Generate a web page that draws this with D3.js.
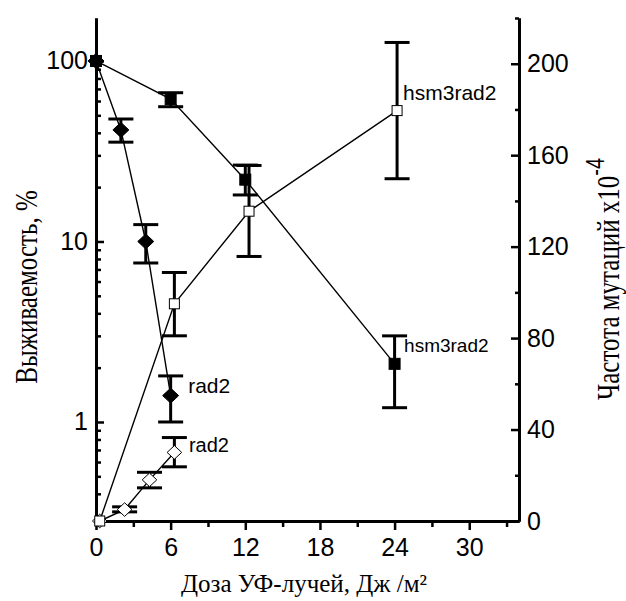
<!DOCTYPE html>
<html><head><meta charset="utf-8">
<script src="https://cdn.jsdelivr.net/npm/d3@7"></script>
<style>body{margin:0;background:#fff}svg{display:block}</style>
</head><body>
<script>
// ---- data ----
const doseTicks = [0, 6, 12, 18, 24, 30];
const doseMinor = [3, 9, 15, 21, 27, 33];
const survTicks = [1, 10, 100];
const survMinor = [0.3,0.4,0.5,0.6,0.7,0.8,0.9,2,3,4,5,6,7,8,9,20,30,40,50,60,70,80,90];
const mutTicks = [0, 40, 80, 120, 160, 200];
const mutMinor = [20, 60, 100, 140, 180, 220];

// survival (left, log axis)
const survRad2Dose = [0, 2, 4, 6];
const survRad2 = [100, 41.5, 10, 1.4];
const survRad2Lo = [null, 35.5, 7.6, 1.0];
const survRad2Hi = [null, 47.7, 12.4, 1.8];
const survHsmDose = [0, 6, 12, 24];
const survHsm = [100, 61.5, 22, 2.1];
const survHsmLo = [null, 55.8, 18.1, 1.2];
const survHsmHi = [null, 66.7, 26.5, 3.0];

// mutation frequency (right axis)
const mutRad2Dose = [0.3, 2.3, 4.3, 6.3];
const mutRad2 = [0, 5, 18, 30];
const mutRad2Lo = [null, 4, 14.5, 23.7];
const mutRad2Hi = [null, 6.2, 21.3, 36.5];
const mutHsmDose = [0.3, 6.3, 12.3, 24.2];
const mutHsm = [0, 95, 135.5, 179.5];
const mutHsmLo = [null, 81, 115.7, 149.7];
const mutHsmHi = [null, 108.7, 155.5, 209.3];

// ---- layout ----
const W = 626, H = 601;
const L = 96, R = 519, T = 18, B = 521;
const svg = d3.select("body").append("svg").attr("width", W).attr("height", H);

const x = d3.scaleLinear().domain([0, 34]).range([L, R]);
const yL = d3.scaleLog().domain([0.2828, 173]).range([B, T]);
const yR = d3.scaleLinear().domain([0, 220]).range([B, T]);

const sans = "'Liberation Sans', Arial, sans-serif";
const serif = "'Liberation Serif', 'Times New Roman', serif";

function styleAxis(g, lw) {
  g.select(".domain").attr("stroke", "#000").attr("stroke-width", 3);
  g.selectAll(".tick line").attr("stroke", "#000").attr("stroke-width", lw);
  g.selectAll(".tick text").attr("font-family", sans).attr("font-size", 25).attr("fill", "#000");
}

// bottom axis
const gx = svg.append("g").attr("transform", `translate(0,${B})`)
  .call(d3.axisBottom(x).tickValues(doseTicks).tickSize(9).tickSizeOuter(0).tickPadding(8).tickFormat(d3.format("d")));
styleAxis(gx, 2.5);
const gxm = svg.append("g").attr("transform", `translate(0,${B})`)
  .call(d3.axisBottom(x).tickValues(doseMinor).tickSize(6).tickSizeOuter(0).tickFormat(""));
styleAxis(gxm, 2.5);

// left axis
const gl = svg.append("g").attr("transform", `translate(${L},0)`)
  .call(d3.axisLeft(yL).tickValues(survTicks).tickSize(-8).tickSizeOuter(0).tickPadding(8).tickFormat(d3.format("d")));
styleAxis(gl, 2.5);
const glm = svg.append("g").attr("transform", `translate(${L},0)`)
  .call(d3.axisLeft(yL).tickValues(survMinor).tickSize(-5).tickSizeOuter(0).tickFormat(""));
styleAxis(glm, 2.5);

// right axis
const gr = svg.append("g").attr("transform", `translate(${R},0)`)
  .call(d3.axisRight(yR).tickValues(mutTicks).tickSize(-8).tickSizeOuter(0).tickPadding(8).tickFormat(d3.format("d")));
styleAxis(gr, 2.5);
const grm = svg.append("g").attr("transform", `translate(${R},0)`)
  .call(d3.axisRight(yR).tickValues(mutMinor).tickSize(-4).tickSizeOuter(0).tickFormat(""));
styleAxis(grm, 2.5);

// ---- series ----
const series = [
  {dose: survRad2Dose, v: survRad2, lo: survRad2Lo, hi: survRad2Hi, y: yL, shape: "diamond", filled: true},
  {dose: survHsmDose, v: survHsm, lo: survHsmLo, hi: survHsmHi, y: yL, shape: "square", filled: true},
  {dose: mutRad2Dose, v: mutRad2, lo: mutRad2Lo, hi: mutRad2Hi, y: yR, shape: "diamond", filled: false},
  {dose: mutHsmDose, v: mutHsm, lo: mutHsmLo, hi: mutHsmHi, y: yR, shape: "square", filled: false}
];

const line = d3.line();
series.forEach(s => {
  const pts = s.dose.map((d, i) => [x(d), s.y(s.v[i])]);
  svg.append("path").attr("d", line(pts)).attr("fill", "none").attr("stroke", "#000").attr("stroke-width", 1.4);
});

// error bars
series.forEach(s => {
  s.dose.forEach((d, i) => {
    if (s.lo[i] == null) return;
    const cx = x(d), y1 = s.y(s.hi[i]), y2 = s.y(s.lo[i]);
    const g = svg.append("g").attr("stroke", "#000");
    g.append("line").attr("x1", cx).attr("x2", cx).attr("y1", y1).attr("y2", y2).attr("stroke-width", 3);
    [y1, y2].forEach(yy => g.append("line").attr("x1", cx - 12.5).attr("x2", cx + 12.5)
      .attr("y1", yy).attr("y2", yy).attr("stroke-width", 3));
  });
});

// markers
series.forEach(s => {
  s.dose.forEach((d, i) => {
    const cx = x(d), cy = s.y(s.v[i]);
    if (s.shape === "square") {
      const sz = s.filled ? 11 : 10;
      svg.append("rect").attr("x", cx - sz / 2).attr("y", cy - sz / 2).attr("width", sz).attr("height", sz)
        .attr("fill", s.filled ? "#000" : "#fff").attr("stroke", "#000").attr("stroke-width", 1);
    } else {
      const hw = s.filled ? 8 : 7.3, hh = s.filled ? 7.5 : 6.8;
      svg.append("path").attr("d", `M${cx},${cy - hh}L${cx + hw},${cy}L${cx},${cy + hh}L${cx - hw},${cy}Z`)
        .attr("fill", s.filled ? "#000" : "#fff").attr("stroke", "#000").attr("stroke-width", 1);
    }
  });
});

// annotations
const ann = [
  {t: "hsm3rad2", x: x(24.2) + 6, y: yR(179.5) - 10.6, fs: 21},
  {t: "hsm3rad2", x: x(24) + 9.5, y: yL(2.1) - 11.5, fs: 19},
  {t: "rad2", x: x(6) + 17.5, y: yL(1.4) - 3, fs: 21},
  {t: "rad2", x: x(6.3) + 14.5, y: yR(30) - 0.5, fs: 20}
];
ann.forEach(a => svg.append("text").attr("x", a.x).attr("y", a.y).attr("font-family", sans)
  .attr("font-size", a.fs).attr("fill", "#000").text(a.t));

// axis titles
svg.append("text").attr("x", 304).attr("y", 592).attr("text-anchor", "middle")
  .attr("font-family", serif).attr("font-size", 25).attr("fill", "#000").text("Доза УФ-лучей, Дж /м²");

svg.append("text").attr("transform", "translate(37,287) rotate(-90) scale(1,1.3)")
  .attr("text-anchor", "middle").attr("font-family", serif).attr("font-size", 25).attr("fill", "#000")
  .text("Выживаемость, %");

const rt = svg.append("text").attr("transform", "translate(619,400) rotate(-90) scale(1,1.3)")
  .attr("font-family", serif).attr("font-size", 25).attr("fill", "#000");
rt.append("tspan").text("Частота мутаций x10");
rt.append("tspan").attr("dy", -11.5).attr("font-family", sans).attr("font-size", 20).text("-4");
</script>
</body></html>
